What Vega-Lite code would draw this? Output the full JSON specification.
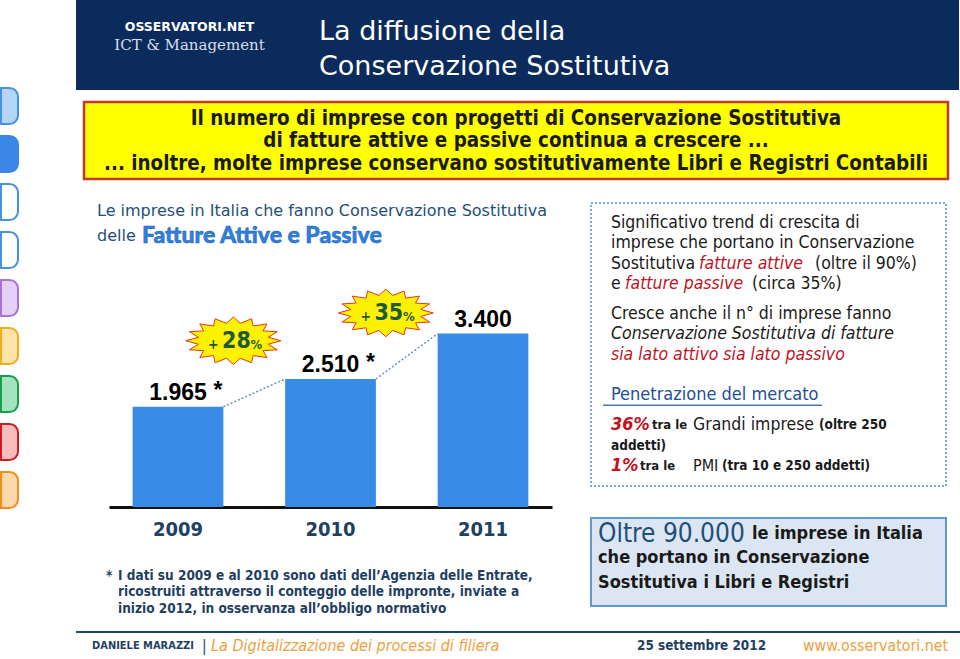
{
 "$schema": "https://vega.github.io/schema/vega-lite/v6.json",
 "background": "white",
 "padding": 0,
 "bounds": "full",
 "spacing": 57,
 "datasets": {
  "bars": [
   {"year": "2009", "value": 1965, "note": "*"},
   {"year": "2010", "value": 2510, "note": "*"},
   {"year": "2011", "value": 3400, "note": ""}
  ],
  "growth": [
   {"from": "2009", "to": "2010", "v0": 1965, "v1": 2510, "growth": 28},
   {"from": "2010", "to": "2011", "v0": 2510, "v1": 3400, "growth": 35}
  ]
 },
 "hconcat": [
  {
   "width": 17, "height": 659,
   "data": {"values": [{"tab": 1}, {"tab": 2}, {"tab": 3}, {"tab": 4}, {"tab": 5}, {"tab": 6}, {"tab": 7}, {"tab": 8}, {"tab": 9}]},
   "mark": {"type": "rect", "cornerRadiusTopRight": 11, "cornerRadiusBottomRight": 11, "strokeWidth": 2},
   "encoding": {
    "y": {"field": "tab", "type": "ordinal", "axis": null, "scale": {"domain": [0, 1, 2, 3, 4, 5, 6, 7, 8, 9, 10, 11, 12], "paddingInner": 0.25, "paddingOuter": 0.49, "align": 0.85}},
    "fill": {"field": "tab", "type": "ordinal", "legend": null, "scale": {"domain": [1, 2, 3, 4, 5, 6, 7, 8, 9], "range": ["#b5d5f7", "#3a87e8", "#ffffff", "#ffffff", "#e6d0f7", "#fde3a7", "#a3e3bf", "#f9bcbc", "#fdd9a9"]}},
    "stroke": {"field": "tab", "type": "ordinal", "legend": null, "scale": {"domain": [1, 2, 3, 4, 5, 6, 7, 8, 9], "range": ["#4a90e2", "#3a87e8", "#4a90e2", "#4a90e2", "#a874d6", "#f0ad1e", "#1a9e4e", "#c81e1e", "#f28c1e"]}}
   }
  },
  {
   "vconcat": [
    {
     "hconcat": [
      {
       "width": 227, "height": 90,
       "view": {"fill": "#0b2b5c"},
       "encoding": {"y": {"field": "row", "type": "ordinal", "axis": null, "scale": {"type": "point", "domain": [0, 1, 2, 3, 4], "padding": 0.5}}},
       "layer": [
        {"data": {"values": [{"row": 1, "text": "OSSERVATORI.NET"}]}, "mark": {"type": "text", "align": "center", "font": "DejaVu Sans", "fontWeight": "bold", "fontSize": 12.5, "color": "#ffffff"}, "encoding": {"text": {"field": "text"}}},
        {"data": {"values": [{"row": 2, "text": "ICT & Management"}]}, "mark": {"type": "text", "align": "center", "font": "DejaVu Serif", "fontSize": 15, "color": "#d9dee8"}, "encoding": {"text": {"field": "text"}}}
       ]
      },
      {
       "width": 656, "height": 90,
       "view": {"fill": "#0b2b5c"},
       "data": {"values": [{"row": 1, "text": "La diffusione della"}, {"row": 2, "text": "Conservazione Sostitutiva"}]},
       "mark": {"type": "text", "dx": 16, "font": "DejaVu Sans", "fontSize": 27, "color": "#ffffff"},
       "encoding": {
        "x": {"datum": 0, "type": "quantitative", "scale": {"domain": [0, 1]}, "axis": null},
        "y": {"field": "row", "type": "ordinal", "axis": null, "scale": {"type": "point", "domain": [1, 2], "padding": 0.786, "align": 0.58}},
        "text": {"field": "text"}
       }
      }
     ],
     "spacing": 0, "bounds": "flush"
    },
    {
     "hconcat": [
      {"width": 8, "height": 90, "data": {"values": []}, "mark": "rect"},
      {
       "width": 864, "height": 77,
       "view": {"fill": "#ffff00", "stroke": "#c0392b", "strokeWidth": 2.5},
       "data": {"values": [
        {"row": 1, "text": "Il numero di imprese con progetti di Conservazione Sostitutiva"},
        {"row": 2, "text": "di fatture attive e passive continua a crescere ..."},
        {"row": 3, "text": "... inoltre, molte imprese conservano sostitutivamente Libri e Registri Contabili"}
       ]},
       "mark": {"type": "text", "align": "center", "fontWeight": "bold", "fontSize": 20.4, "color": "#1a1a1a"},
       "encoding": {
        "y": {"field": "row", "type": "ordinal", "axis": null, "scale": {"type": "point", "domain": [1, 2, 3], "padding": 0.71, "align": 0.53}},
        "text": {"field": "text"}
       }
      }
     ],
     "spacing": 0, "bounds": "flush"
    },
    {
     "hconcat": [
      {"width": 21, "height": 10, "data": {"values": []}, "mark": "rect"},
      {
       "vconcat": [
        {
         "width": 443, "height": 49,
         "encoding": {
          "x": {"datum": 0, "type": "quantitative", "scale": {"domain": [0, 1]}, "axis": null},
          "y": {"field": "row", "type": "ordinal", "axis": null, "scale": {"type": "point", "domain": [1, 2], "padding": 0.48, "align": 0.333}}
         },
         "layer": [
          {"data": {"values": [{"row": 1, "text": "Le imprese in Italia che fanno Conservazione Sostitutiva"}, {"row": 2, "text": "delle"}]}, "mark": {"type": "text", "dx": -12, "font": "DejaVu Sans", "fontSize": 16, "color": "#1f4e79"}, "encoding": {"text": {"field": "text"}}},
          {"data": {"values": [{"row": 2, "text": "Fatture Attive e Passive"}]}, "mark": {"type": "text", "dx": 33, "font": "Lato", "fontWeight": 900, "fontSize": 23, "color": "#2f80e0", "stroke": "#1b5fae", "strokeWidth": 0.5}, "encoding": {"text": {"field": "text"}}}
         ]
        },
        {
         "width": 443, "height": 255,
         "layer": [
          {
           "data": {"name": "bars"},
           "mark": {"type": "bar", "color": "#388be6"},
           "encoding": {
            "x": {"field": "year", "type": "ordinal", "title": null, "scale": {"paddingInner": 0.405, "paddingOuter": 0.155},
                  "axis": {"domainColor": "#111111", "domainWidth": 3, "ticks": false, "labelAngle": 0, "labelPadding": 12, "labelFont": "DejaVu Sans Condensed", "labelFontWeight": "bold", "labelFontSize": 20, "labelColor": "#1f3f63", "grid": false}},
            "y": {"field": "value", "type": "quantitative", "axis": null, "scale": {"domain": [0, 4900]}}
           }
          },
          {
           "data": {"name": "growth"},
           "mark": {"type": "rule", "strokeDash": [2, 2], "color": "#6f8fbf", "strokeWidth": 1.5},
           "encoding": {
            "x": {"field": "from", "type": "ordinal", "bandPosition": 1, "title": null},
            "x2": {"field": "to", "bandPosition": 0},
            "y": {"field": "v0", "type": "quantitative"},
            "y2": {"field": "v1"}
           }
          },
          {
           "data": {"name": "bars"},
           "mark": {"type": "text", "align": "center", "baseline": "alphabetic", "dy": -7, "font": "Liberation Sans", "fontWeight": "bold", "fontSize": 23, "color": "#000000"},
           "encoding": {
            "x": {"field": "year", "type": "ordinal", "title": null},
            "y": {"field": "value", "type": "quantitative"},
            "text": {"field": "value", "type": "quantitative", "format": ",d"}
           }
          },
          {
           "data": {"name": "bars"},
           "mark": {"type": "text", "align": "center", "baseline": "alphabetic", "dx": 40, "dy": -9, "font": "Liberation Sans", "fontWeight": "bold", "fontSize": 23, "color": "#000000"},
           "encoding": {
            "x": {"field": "year", "type": "ordinal", "title": null},
            "y": {"field": "value", "type": "quantitative"},
            "text": {"field": "note"}
           }
          },
          {
           "data": {"name": "growth"},
           "mark": {"type": "point", "shape": "M1.21,-1.39L0.946,-1.317L1.134,-1.199L0.834,-1.182L0.917,-1.036L0.627,-1.078L0.593,-0.928L0.356,-1.022L0.21,-0.89L0.064,-1.022L-0.173,-0.928L-0.207,-1.078L-0.497,-1.036L-0.414,-1.182L-0.714,-1.199L-0.526,-1.317L-0.79,-1.39L-0.526,-1.463L-0.714,-1.581L-0.414,-1.598L-0.497,-1.744L-0.207,-1.702L-0.173,-1.852L0.064,-1.758L0.21,-1.89L0.356,-1.758L0.593,-1.852L0.627,-1.702L0.917,-1.744L0.834,-1.598L1.134,-1.581L0.946,-1.463Z", "size": 9025, "filled": true, "fill": "#fff200", "stroke": "#e8341c", "strokeWidth": 1, "opacity": 1},
           "encoding": {
            "x": {"field": "from", "type": "ordinal", "bandPosition": 1, "title": null},
            "y": {"field": "v0", "type": "quantitative"}
           }
          },
          {
           "data": {"name": "growth"},
           "mark": {"type": "text", "align": "center", "dx": 13, "dy": -66, "fontWeight": "bold", "fontSize": 23, "color": "#1d5a3c"},
           "encoding": {
            "x": {"field": "from", "type": "ordinal", "bandPosition": 1, "title": null},
            "y": {"field": "v0", "type": "quantitative"},
            "text": {"field": "growth", "type": "quantitative"}
           }
          },
          {
           "data": {"name": "growth"},
           "mark": {"type": "text", "align": "center", "dx": -10, "dy": -62, "fontWeight": "bold", "fontSize": 14, "color": "#1d5a3c"},
           "encoding": {
            "x": {"field": "from", "type": "ordinal", "bandPosition": 1, "title": null},
            "y": {"field": "v0", "type": "quantitative"},
            "text": {"value": "+"}
           }
          },
          {
           "data": {"name": "growth"},
           "mark": {"type": "text", "align": "center", "dx": 33, "dy": -62, "fontWeight": "bold", "fontSize": 13, "color": "#1d5a3c"},
           "encoding": {
            "x": {"field": "from", "type": "ordinal", "bandPosition": 1, "title": null},
            "y": {"field": "v0", "type": "quantitative"},
            "text": {"value": "%"}
           }
          }
         ]
        },
        {
         "width": 443, "height": 114,
         "encoding": {
          "x": {"datum": 0, "type": "quantitative", "scale": {"domain": [0, 1]}, "axis": null},
          "y": {"field": "row", "type": "ordinal", "axis": null, "scale": {"type": "point", "domain": [-3, -2, -1, 0, 1, 2, 3], "padding": 0.455, "align": 0.2}}
         },
         "layer": [
          {"data": {"values": [{"row": 1, "text": "*"}]}, "mark": {"type": "text", "dx": -3, "fontWeight": "bold", "fontSize": 13.5, "color": "#1f3f63"}, "encoding": {"text": {"field": "text"}}},
          {"data": {"values": [
            {"row": 1, "text": "I dati su 2009 e al 2010 sono dati dell’Agenzia delle Entrate,"},
            {"row": 2, "text": "ricostruiti attraverso il conteggio delle impronte, inviate a"},
            {"row": 3, "text": "inizio 2012, in osservanza all’obbligo normativo"}
           ]}, "mark": {"type": "text", "dx": 9, "fontWeight": "bold", "fontSize": 13.5, "color": "#1f3f63"}, "encoding": {"text": {"field": "text"}}}
         ]
        }
       ],
       "spacing": 0, "bounds": "flush"
      },
      {"width": 37, "height": 10, "data": {"values": []}, "mark": "rect"},
      {
       "vconcat": [
        {
         "width": 355, "height": 283,
         "view": {"stroke": "#5b8bc9", "strokeDash": [2, 2], "strokeWidth": 1.5},
         "encoding": {
          "y": {"field": "row", "type": "ordinal", "axis": null, "scale": {"type": "point", "domain": [-2, -1, 0, 1, 2, 3, 4, 5, 6, 7, 8, 9, 10, 11, 12, 13, 14, 15, 16, 17, 18, 19, 20, 21, 22, 23, 24, 25, 26], "padding": 0}}
         },
         "layer": [
          {"data": {"values": [
            {"row": 0, "text": "Significativo trend di crescita di"},
            {"row": 2, "text": "imprese che portano in Conservazione"},
            {"row": 4, "text": "Sostitutiva"},
            {"row": 6, "text": "e"},
            {"row": 9, "text": "Cresce anche il n° di imprese fanno"}
           ]}, "mark": {"type": "text", "dx": 20, "fontSize": 17.5, "color": "#1a1a1a"},
           "encoding": {"x": {"datum": 0, "type": "quantitative", "scale": {"domain": [0, 1]}, "axis": null}, "text": {"field": "text"}}},
          {"data": {"values": [{"row": 11, "text": "Conservazione Sostitutiva di fatture"}]}, "mark": {"type": "text", "dx": 20, "fontSize": 17.5, "fontStyle": "italic", "color": "#1a1a1a"},
           "encoding": {"x": {"datum": 0, "type": "quantitative"}, "text": {"field": "text"}}},
          {"data": {"values": [{"row": 13, "text": "sia lato attivo sia lato passivo"}]}, "mark": {"type": "text", "dx": 20, "fontSize": 17.5, "fontStyle": "italic", "color": "#c0121e"},
           "encoding": {"x": {"datum": 0, "type": "quantitative"}, "text": {"field": "text"}}},
          {"data": {"values": [{"row": 4, "text": "fatture attive"}]}, "mark": {"type": "text", "dx": 108, "fontSize": 17.5, "fontStyle": "italic", "color": "#c0121e"},
           "encoding": {"x": {"datum": 0, "type": "quantitative"}, "text": {"field": "text"}}},
          {"data": {"values": [{"row": 4, "text": "(oltre il 90%)"}]}, "mark": {"type": "text", "dx": 224, "fontSize": 17.5, "color": "#1a1a1a"},
           "encoding": {"x": {"datum": 0, "type": "quantitative"}, "text": {"field": "text"}}},
          {"data": {"values": [{"row": 6, "text": "fatture passive"}]}, "mark": {"type": "text", "dx": 34, "fontSize": 17.5, "fontStyle": "italic", "color": "#c0121e"},
           "encoding": {"x": {"datum": 0, "type": "quantitative"}, "text": {"field": "text"}}},
          {"data": {"values": [{"row": 6, "text": "(circa 35%)"}]}, "mark": {"type": "text", "dx": 161, "fontSize": 17.5, "color": "#1a1a1a"},
           "encoding": {"x": {"datum": 0, "type": "quantitative"}, "text": {"field": "text"}}},
          {"data": {"values": [{"row": 17, "text": "Penetrazione del mercato"}]}, "mark": {"type": "text", "dx": 20, "fontSize": 18, "color": "#1f4e9a"},
           "encoding": {"x": {"datum": 0, "type": "quantitative"}, "text": {"field": "text"}}},
          {"data": {"values": [{"row": 18}]}, "mark": {"type": "rule", "color": "#4a76b8", "strokeWidth": 1.5, "strokeDash": [219, 800], "strokeDashOffset": -124}, "encoding": {}},
          {"data": {"values": [{"row": 20, "text": "36%"}, {"row": 24, "text": "1%"}]}, "mark": {"type": "text", "dx": 20, "fontSize": 18, "fontWeight": "bold", "fontStyle": "italic", "color": "#c0121e"},
           "encoding": {"x": {"datum": 0, "type": "quantitative"}, "text": {"field": "text"}}},
          {"data": {"values": [{"row": 20, "text": "tra le"}]}, "mark": {"type": "text", "dx": 61, "fontSize": 13, "fontWeight": "bold", "color": "#1a1a1a"},
           "encoding": {"x": {"datum": 0, "type": "quantitative"}, "text": {"field": "text"}}},
          {"data": {"values": [{"row": 24, "text": "tra le"}]}, "mark": {"type": "text", "dx": 49, "fontSize": 13, "fontWeight": "bold", "color": "#1a1a1a"},
           "encoding": {"x": {"datum": 0, "type": "quantitative"}, "text": {"field": "text"}}},
          {"data": {"values": [{"row": 20, "text": "Grandi imprese"}]}, "mark": {"type": "text", "dx": 102, "fontSize": 17.5, "color": "#1a1a1a"},
           "encoding": {"x": {"datum": 0, "type": "quantitative"}, "text": {"field": "text"}}},
          {"data": {"values": [{"row": 24, "text": "PMI"}]}, "mark": {"type": "text", "dx": 102, "fontSize": 16, "color": "#1a1a1a"},
           "encoding": {"x": {"datum": 0, "type": "quantitative"}, "text": {"field": "text"}}},
          {"data": {"values": [{"row": 20, "text": "(oltre 250"}]}, "mark": {"type": "text", "dx": 228, "fontSize": 13.5, "fontWeight": "bold", "color": "#1a1a1a"},
           "encoding": {"x": {"datum": 0, "type": "quantitative"}, "text": {"field": "text"}}},
          {"data": {"values": [{"row": 22, "text": "addetti)"}]}, "mark": {"type": "text", "dx": 20, "fontSize": 13.5, "fontWeight": "bold", "color": "#1a1a1a"},
           "encoding": {"x": {"datum": 0, "type": "quantitative"}, "text": {"field": "text"}}},
          {"data": {"values": [{"row": 24, "text": "(tra 10 e 250 addetti)"}]}, "mark": {"type": "text", "dx": 131, "fontSize": 13.5, "fontWeight": "bold", "color": "#1a1a1a"},
           "encoding": {"x": {"datum": 0, "type": "quantitative"}, "text": {"field": "text"}}}
         ]
        },
        {
         "width": 355, "height": 88,
         "view": {"fill": "#dce6f2", "stroke": "#5b9bd5", "strokeWidth": 2},
         "encoding": {
          "x": {"datum": 0, "type": "quantitative", "scale": {"domain": [0, 1]}, "axis": null},
          "y": {"field": "row", "type": "ordinal", "axis": null, "scale": {"type": "point", "domain": [1, 2, 3], "padding": 0.8, "align": 0.41}}
         },
         "layer": [
          {"data": {"values": [{"row": 1, "text": "Oltre 90.000"}]}, "mark": {"type": "text", "dx": 7, "fontSize": 26, "color": "#1f4e79"}, "encoding": {"text": {"field": "text"}}},
          {"data": {"values": [{"row": 1, "text": "le imprese in Italia"}]}, "mark": {"type": "text", "dx": 161, "fontSize": 18, "fontWeight": "bold", "color": "#1a1a1a"}, "encoding": {"text": {"field": "text"}}},
          {"data": {"values": [{"row": 2, "text": "che portano in Conservazione"}, {"row": 3, "text": "Sostitutiva i Libri e Registri"}]}, "mark": {"type": "text", "dx": 7, "fontSize": 18, "fontWeight": "bold", "color": "#1a1a1a"}, "encoding": {"text": {"field": "text"}}}
         ]
        }
       ],
       "spacing": 32, "bounds": "flush"
      }
     ],
     "spacing": 0, "bounds": "full"
    },
    {
     "vconcat": [
      {"width": 885, "height": 2, "view": {"fill": "#1e4a66"}, "data": {"values": []}, "mark": "rect"},
      {
       "width": 885, "height": 25,
       "encoding": {"x": {"datum": 0, "type": "quantitative", "scale": {"domain": [0, 1]}, "axis": null}},
       "layer": [
        {"data": {"values": [{"text": "DANIELE MARAZZI"}]}, "mark": {"type": "text", "dx": 16, "fontSize": 11, "fontWeight": "bold", "color": "#1f3f63"}, "encoding": {"text": {"field": "text"}}},
        {"data": {"values": [{"text": "|"}]}, "mark": {"type": "text", "dx": 126, "fontSize": 15, "color": "#1f3f63"}, "encoding": {"text": {"field": "text"}}},
        {"data": {"values": [{"text": "La Digitalizzazione dei processi di filiera"}]}, "mark": {"type": "text", "dx": 135, "fontSize": 16, "fontStyle": "italic", "color": "#f0a040"}, "encoding": {"text": {"field": "text"}}},
        {"data": {"values": [{"text": "25 settembre 2012"}]}, "mark": {"type": "text", "dx": 561, "fontSize": 13.4, "fontWeight": "bold", "color": "#1f3f63"}, "encoding": {"text": {"field": "text"}}},
        {"data": {"values": [{"text": "www.osservatori.net"}]}, "mark": {"type": "text", "dx": 727, "fontSize": 15.8, "color": "#f0a040"}, "encoding": {"text": {"field": "text"}}}
       ]
      }
     ],
     "spacing": 0, "bounds": "flush"
    }
   ],
   "spacing": 10, "bounds": "full"
  }
 ],
 "config": {
  "view": {"stroke": null},
  "text": {"baseline": "middle", "align": "left", "font": "DejaVu Sans Condensed", "color": "#1a1a1a"},
  "locale": {"number": {"decimal": ",", "thousands": ".", "grouping": [3], "currency": ["€", ""]}},
  "concat": {"spacing": 0}
 }
}
